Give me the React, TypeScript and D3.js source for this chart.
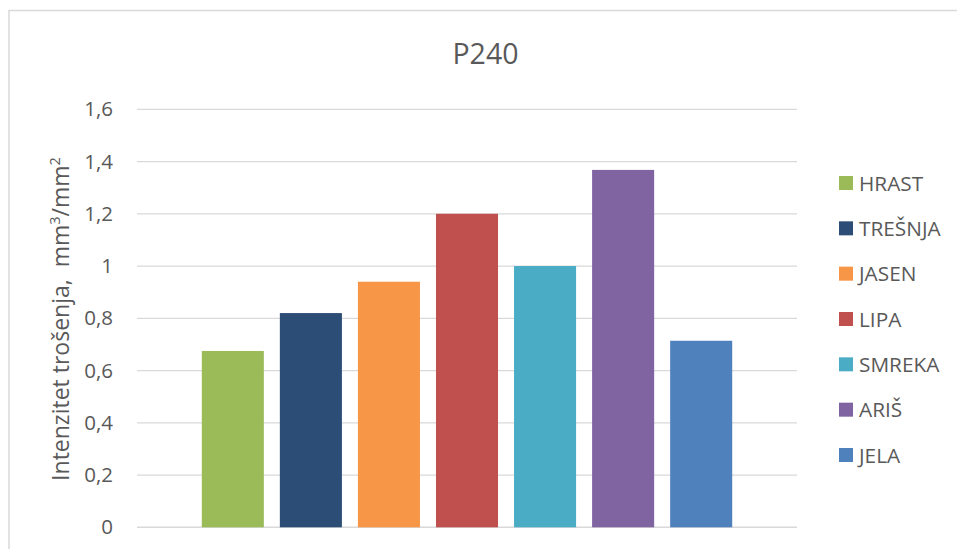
import React from "react";
import * as d3 from "d3";

const categories = ["HRAST", "TREŠNJA", "JASEN", "LIPA", "SMREKA", "ARIŠ", "JELA"];
const values = [0.675, 0.82, 0.94, 1.2, 1.0, 1.368, 0.714];
const colors = ["#9BBB59", "#2C4D75", "#F79646", "#C0504D", "#4BACC6", "#8064A2", "#4F81BD"];
const yTicks = [0, 0.2, 0.4, 0.6, 0.8, 1.0, 1.2, 1.4, 1.6];
const title = "P240";

const W = 957;
const H = 549;
const FONT = "'Open Sans', sans-serif";
const TEXT = "#595959";

export default function App() {
  const plotLeft = 137;
  const plotRight = 797;
  const y = d3.scaleLinear().domain([0, 1.6]).range([527.3, 109.3]);
  const x = d3
    .scaleBand<string>()
    .domain(categories)
    .range([plotLeft, plotRight])
    .paddingInner(16 / 78)
    .paddingOuter(0.83);
  const fmt = (v: number) => (v === 1 ? "1" : v === 0 ? "0" : d3.format(".1f")(v).replace(".", ","));

  const legendY = d3.scalePoint<string>().domain(categories).range([183, 455]);

  return (
    <svg
      width={W}
      height={H}
      style={{ position: "absolute", left: 0, top: 0, background: "#fff" }}
      fontFamily={FONT}
    >
      <rect x={9} y={10.5} width={W + 10} height={H + 10} fill="#fff" stroke="#D9D9D9" strokeWidth={1.5} />
      <text x={485.5} y={64} textAnchor="middle" fontSize={28.5} fill={TEXT}>
        {title}
      </text>
      {yTicks.map((t) => (
        <g key={t}>
          <line
            x1={plotLeft}
            x2={plotRight}
            y1={y(t)}
            y2={y(t)}
            stroke="#D9D9D9"
            strokeWidth={t === 0 ? 1.5 : 1.2}
          />
          <text x={113} y={y(t)} dy="0.35em" textAnchor="end" fontSize={20.5} fill={TEXT}>
            {fmt(t)}
          </text>
        </g>
      ))}
      {categories.map((c, i) => (
        <rect
          key={c}
          x={x(c)}
          y={y(values[i])}
          width={x.bandwidth()}
          height={y(0) - y(values[i])}
          fill={colors[i]}
        />
      ))}
      <text
        transform={`translate(69,${319}) rotate(-90)`}
        textAnchor="middle"
        fontSize={23}
        fill={TEXT}
      >
        {"Intenzitet trošenja,\u00A0 mm"}
        <tspan dy="-9" fontSize={14.5}>3</tspan>
        <tspan dy="9">/mm</tspan>
        <tspan dy="-9" fontSize={14.5}>2</tspan>
      </text>
      {categories.map((c, i) => (
        <g key={c} transform={`translate(839,${legendY(c)})`}>
          <rect x={0} y={-7} width={14} height={14} fill={colors[i]} />
          <text x={20} y={0} dy="0.36em" fontSize={20.8} fill={TEXT}>
            {c}
          </text>
        </g>
      ))}
    </svg>
  );
}
